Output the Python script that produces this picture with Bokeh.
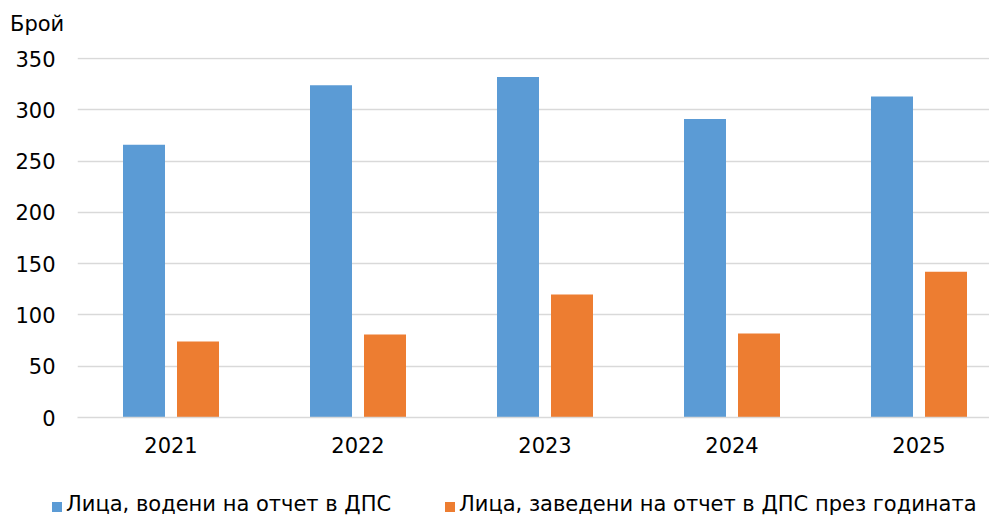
from bokeh.plotting import figure
from bokeh.models import Range1d, FixedTicker, Div
from bokeh.layouts import column
from bokeh.embed import file_html
from bokeh.resources import INLINE

years = ["2021", "2022", "2023", "2024", "2025"]
series_names = ["Лица, водени на отчет в ДПС", "Лица, заведени на отчет в ДПС през годината"]
tracked = [266, 324, 332, 291, 313]
registered = [74, 81, 120, 82, 142]
y_ticks = [0, 50, 100, 150, 200, 250, 300, 350]
y_title = "Брой"

BLUE = "#5B9BD5"
ORANGE = "#ED7D31"
GRID = "#D9D9D9"
FONT = "DejaVu Sans"
FS = "21px"
series_colors = [BLUE, ORANGE]

W = 989
TOP_H = 46          # strip holding the "Брой" caption
MAIN_H = 442        # chart
LEG_H = 512 - TOP_H - MAIN_H   # legend strip
LEFT = 77
FRAME_TOP = 57 - TOP_H
PX_PER_UNIT = 359 / 350.0
FRAME_H = 360
Y_END = FRAME_H / PX_PER_UNIT
FRAME_W = W - LEFT
CAT_PX = 187.0
x_end = FRAME_W / CAT_PX

TEXT_CSS = f"font-family:'{FONT}';font-size:{FS};line-height:24px;color:#000000;white-space:nowrap;"

# caption strip
top_html = (f'<div style="position:relative;width:{W}px;height:{TOP_H}px;">'
            f'<span style="position:absolute;left:10px;top:12px;{TEXT_CSS}">{y_title}</span></div>')
top = Div(text=top_html, width=W, height=TOP_H, margin=0, styles={"overflow": "visible"})

# main chart
p = figure(frame_width=FRAME_W, frame_height=FRAME_H, output_backend="svg",
           toolbar_location=None, title=None,
           x_range=Range1d(0, x_end), y_range=Range1d(0, Y_END),
           min_border_left=LEFT, min_border_right=0, min_border_top=FRAME_TOP,
           min_border_bottom=MAIN_H - FRAME_TOP - FRAME_H)
p.outline_line_color = None
p.background_fill_color = "white"
p.border_fill_color = "white"

centers = [i + 0.5 for i in range(len(years))]
bw = 42 / CAT_PX
off = 27 / CAT_PX
p.vbar(x=[c - off for c in centers], top=tracked, width=bw, bottom=0,
       fill_color=BLUE, line_color=None)
p.vbar(x=[c + off for c in centers], top=registered, width=bw, bottom=0,
       fill_color=ORANGE, line_color=None)

p.xaxis.ticker = FixedTicker(ticks=centers)
p.xaxis.major_label_overrides = {c: y for c, y in zip(centers, years)}
p.xaxis.axis_line_color = GRID
p.xaxis.axis_line_width = 1.5
p.xaxis.major_tick_line_color = None
p.xaxis.major_tick_out = 0
p.xaxis.major_tick_in = 0
p.xaxis.minor_tick_line_color = None
p.xaxis.major_label_standoff = 19
p.xaxis.major_label_text_font = FONT
p.xaxis.major_label_text_font_size = FS
p.xaxis.major_label_text_color = "#000000"

p.yaxis.ticker = FixedTicker(ticks=y_ticks)
p.yaxis.axis_line_color = None
p.yaxis.major_tick_line_color = None
p.yaxis.major_tick_out = 0
p.yaxis.major_tick_in = 0
p.yaxis.minor_tick_line_color = None
p.yaxis.major_label_standoff = 22
p.yaxis.major_label_text_font = FONT
p.yaxis.major_label_text_font_size = FS
p.yaxis.major_label_text_color = "#000000"

p.xgrid.grid_line_color = None
p.ygrid.grid_line_color = GRID
p.ygrid.grid_line_width = 1.5

# legend strip (swatch + label for each series)
swatch_left = [52, 445]
parts = []
for name, color, x0 in zip(series_names, series_colors, swatch_left):
    parts.append(f'<span style="position:absolute;display:block;left:{x0}px;top:14px;'
                 f'width:10px;height:10px;background-color:{color};"></span>')
    parts.append(f'<span style="position:absolute;left:{x0 + 14}px;top:4px;{TEXT_CSS}">{name}</span>')
leg_html = (f'<div style="position:relative;width:{W}px;height:{LEG_H}px;">' + "".join(parts) + "</div>")
leg = Div(text=leg_html, width=W, height=LEG_H, margin=0, styles={"overflow": "visible"})

layout = column(top, p, leg, spacing=0)
open("out.html", "w").write(file_html(layout, INLINE))
